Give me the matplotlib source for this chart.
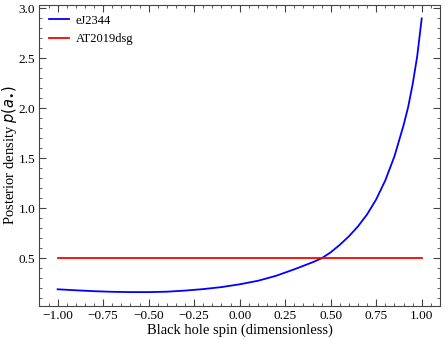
import matplotlib
matplotlib.use('Agg')
import matplotlib.pyplot as plt
from matplotlib.ticker import AutoMinorLocator

# spin grid and posterior density
spin = [-1.0, -0.9, -0.8, -0.7, -0.6, -0.5, -0.4, -0.3, -0.2, -0.1, 0.0,
        0.1, 0.2, 0.3, 0.35, 0.4, 0.45, 0.5, 0.55, 0.6, 0.65, 0.7, 0.75,
        0.8, 0.85, 0.9, 0.925, 0.95, 0.975, 1.0]
p_ej2344 = [0.19, 0.18, 0.171, 0.165, 0.162, 0.162, 0.166, 0.177, 0.192, 0.212, 0.24,
            0.275, 0.325, 0.39, 0.425, 0.46, 0.50, 0.56, 0.635, 0.72, 0.82, 0.94, 1.09,
            1.28, 1.52, 1.83, 2.01, 2.24, 2.52, 2.90]
spin_flat = [-1.0, 1.0]
p_at2019dsg = [0.5, 0.5]

plt.rcParams['font.family'] = 'Liberation Serif'
plt.rcParams['mathtext.fontset'] = 'dejavusans'

fig = plt.figure(figsize=(4.48, 3.39), dpi=100)
ax = fig.add_axes([0.088, 0.098, 0.894, 0.888])

ax.plot(spin, p_ej2344, color='blue', lw=1.3, label='eJ2344')
ax.plot(spin_flat, p_at2019dsg, color='red', lw=1.3, label='AT2019dsg')

ax.set_xlabel('Black hole spin (dimensionless)', fontsize=10.5, labelpad=1)
ax.set_ylabel(r'Posterior density $\mathit{p(a_{\bullet})}$', fontsize=10.5)
ax.yaxis.set_label_coords(-0.05, 0.5)

ax.xaxis.set_minor_locator(AutoMinorLocator(5))
ax.yaxis.set_minor_locator(AutoMinorLocator(5))
ax.tick_params(which='both', direction='in', top=True, right=True, color='#444444', labelsize=9.5)
ax.tick_params(which='major', length=5, pad=3)
ax.tick_params(which='minor', length=2.5)
for s in ax.spines.values():
    s.set_color('#444444')

ax.legend(loc='upper left', frameon=False, fontsize=9, handlelength=1.6,
          handletextpad=0.5, borderaxespad=0.4)

fig.savefig('out.png', dpi=100)
